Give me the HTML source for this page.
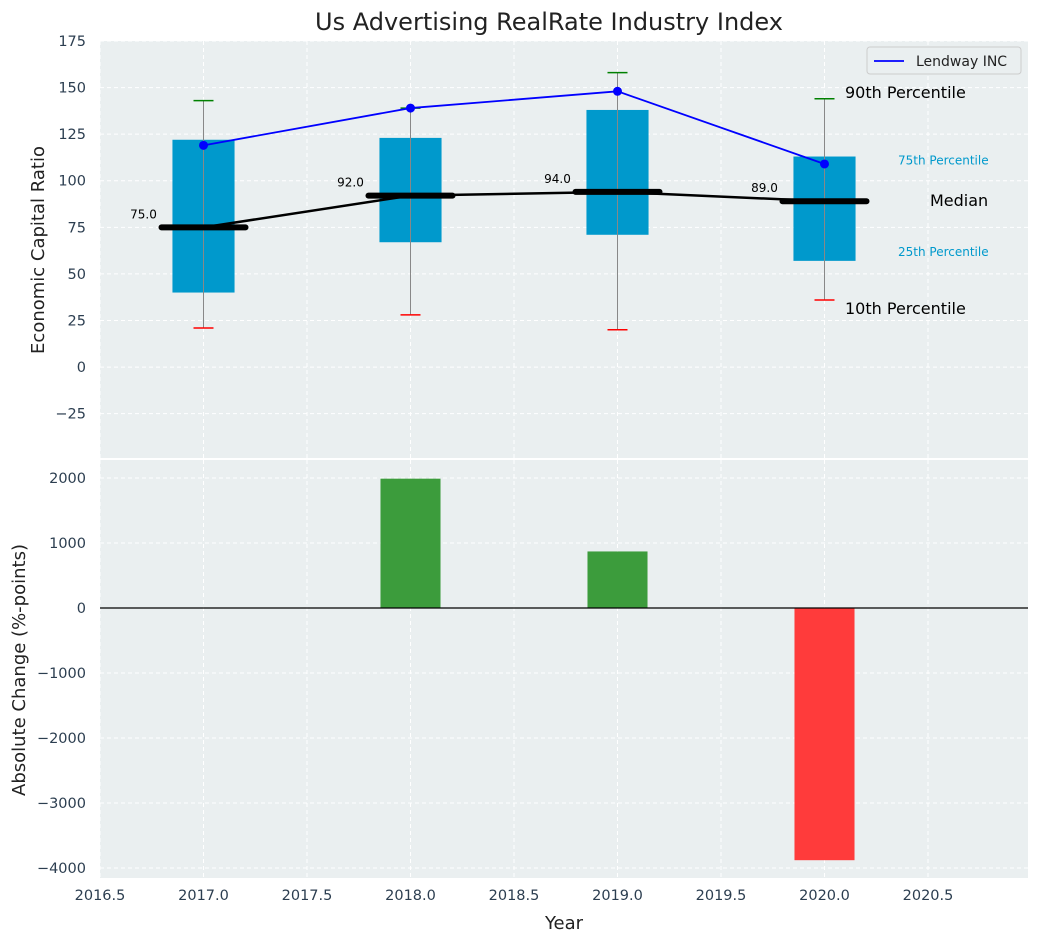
<!DOCTYPE html>
<html><head><meta charset="utf-8"><style>
body{margin:0;background:#fff;font-family:"Liberation Sans","DejaVu Sans",sans-serif}
</style></head><body>
<svg id="chart" width="1039" height="942" xmlns="http://www.w3.org/2000/svg" font-family="DejaVu Sans, Liberation Sans, sans-serif"></svg>
<script>
const years=[2017,2018,2019,2020];
const p10=[21,28,20,36];
const q1=[40,67,71,57];
const medians=[75,92,94,89];
const q3=[122,123,138,113];
const p90=[143,139,158,144];
const company=[119,139,148,109];
const changes=[0,1990,870,-3880];
const xTicks=[2016.5,2017,2017.5,2018,2018.5,2019,2019.5,2020,2020.5];
const yTopTicks=[-25,0,25,50,75,100,125,150,175];
const yBotTicks=[-4000,-3000,-2000,-1000,0,1000,2000];

const svg=document.getElementById('chart');
const NS='http://www.w3.org/2000/svg';
function el(t,a,txt){const e=document.createElementNS(NS,t);for(const k in a)e.setAttribute(k,a[k]);if(txt!==undefined)e.textContent=txt;svg.appendChild(e);return e;}
const L=100,R=1028;
const X=v=>L+(v-2016.5)*207;
const T0=41,T1=458,yTmin=-48.8,yTmax=175;
const YT=v=>T1-(v-yTmin)/(yTmax-yTmin)*(T1-T0);
const B0=460,B1=878,yBmin=-4154,yBmax=2277;
const YB=v=>B1-(v-yBmin)/(yBmax-yBmin)*(B1-B0);

let e;
e=el('rect',{x:L,y:T0,width:R-L,height:T1-T0,fill:'#eaeff0'});

e=el('rect',{x:L,y:B0,width:R-L,height:B1-B0,fill:'#eaeff0'});


xTicks.forEach(t=>{
  el('line',{x1:X(t),x2:X(t),y1:T0,y2:T1,stroke:'#fff','stroke-dasharray':'4,3'});
  el('line',{x1:X(t),x2:X(t),y1:B0,y2:B1,stroke:'#fff','stroke-dasharray':'4,3'});
  e=el('text',{x:X(t),y:900,'text-anchor':'middle','font-size':14.5,fill:'#2c3e50'},t.toFixed(1));
  
});
yTopTicks.forEach(t=>{
  el('line',{x1:L,x2:R,y1:YT(t),y2:YT(t),stroke:'#fff','stroke-dasharray':'4,3'});
  e=el('text',{x:86,y:YT(t)+5,'text-anchor':'end','font-size':14.5,fill:'#2c3e50'},t<0?'\u2212'+(-t):t);
  
});
yBotTicks.forEach(t=>{
  el('line',{x1:L,x2:R,y1:YB(t),y2:YB(t),stroke:'#fff','stroke-dasharray':'4,3'});
  e=el('text',{x:86,y:YB(t)+5,'text-anchor':'end','font-size':14.5,fill:'#2c3e50'},t<0?'\u2212'+(-t):t);
  
});

years.forEach((y,i)=>{
  const cx=X(y),w=0.15*207;
  e=el('rect',{x:cx-w,y:YT(q3[i]),width:2*w,height:YT(q1[i])-YT(q3[i]),fill:'#0099cc'});
  
  el('line',{x1:cx,x2:cx,y1:YT(p90[i]),y2:YT(p10[i]),stroke:'#888','stroke-width':1});
  e=el('line',{x1:cx-10,x2:cx+10,y1:YT(p90[i]),y2:YT(p90[i]),stroke:'green','stroke-width':1.5});
  
  e=el('line',{x1:cx-10,x2:cx+10,y1:YT(p10[i]),y2:YT(p10[i]),stroke:'red','stroke-width':1.5});
  
});
e=el('polyline',{points:years.map((y,i)=>X(y)+','+YT(medians[i])).join(' '),fill:'none',stroke:'#000','stroke-width':2.5});

years.forEach((y,i)=>{
  const cx=X(y);
  e=el('line',{x1:cx-42,x2:cx+42,y1:YT(medians[i]),y2:YT(medians[i]),stroke:'#000','stroke-width':6,'stroke-linecap':'round'});
  
  e=el('text',{x:cx-60,y:YT(medians[i])-9,'text-anchor':'middle','font-size':12,fill:'#000'},medians[i].toFixed(1));
  
});
e=el('polyline',{points:years.map((y,i)=>X(y)+','+YT(company[i])).join(' '),fill:'none',stroke:'blue','stroke-width':1.8});

years.forEach((y,i)=>{e=el('circle',{cx:X(y),cy:YT(company[i]),r:4.5,fill:'blue'});
  });

const lastI=3;
[['90th Percentile',845,YT(p90[lastI])-1,16,'#000'],['75th Percentile',898,YT(q3[lastI])+8,12,'#0099cc'],['Median',930,YT(medians[lastI])+5,16,'#000'],['25th Percentile',898,YT(q1[lastI])-5,12,'#0099cc'],['10th Percentile',845,YT(p10[lastI])+14,16,'#000']].forEach(a=>{
  e=el('text',{x:a[1],y:a[2],'font-size':a[3],fill:a[4]},a[0]);
  
});

e=el('rect',{x:867,y:47,width:154,height:27,fill:'#eaeff0',stroke:'#ccc',rx:3});

el('line',{x1:874,x2:904,y1:61,y2:61,stroke:'blue','stroke-width':1.8});
e=el('text',{x:916,y:66,'font-size':14,fill:'#222'},'Lendway INC');


years.forEach((y,i)=>{
  if(!changes[i])return;
  const w=0.145*207,v=changes[i];
  e=el('rect',{x:X(y)-w,y:Math.min(YB(0),YB(v)),width:2*w,height:Math.abs(YB(v)-YB(0)),fill:v>=0?'#3c9c3c':'#ff3b3b'});
  
});
el('line',{x1:L,x2:R,y1:YB(0),y2:YB(0),stroke:'#000','stroke-width':1.3});

e=el('text',{x:549,y:30,'text-anchor':'middle','font-size':24,fill:'#222'},'Us Advertising RealRate Industry Index');

e=el('text',{x:564,y:929,'text-anchor':'middle','font-size':18,fill:'#222'},'Year');

e=el('text',{x:0,y:0,'text-anchor':'middle','font-size':18,fill:'#222',transform:'translate(44,250) rotate(-90)'},'Economic Capital Ratio');

e=el('text',{x:0,y:0,'text-anchor':'middle','font-size':18,fill:'#222',transform:'translate(25,670) rotate(-90)'},'Absolute Change (%-points)');

</script>
</body></html>
